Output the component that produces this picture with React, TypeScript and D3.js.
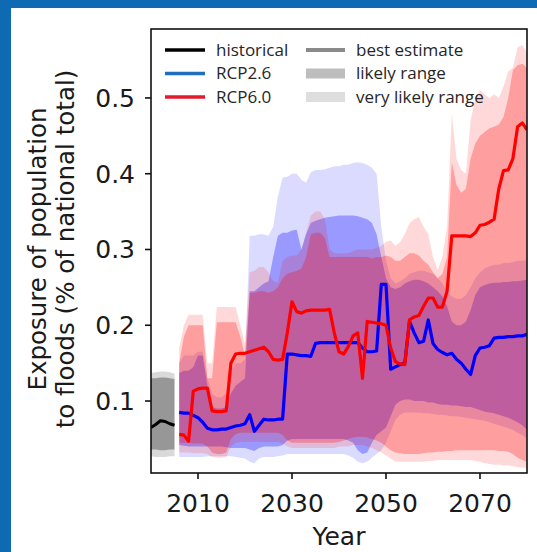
import * as d3 from 'd3'

// ---- data ----
const histYears = [2000, 2001, 2002, 2003, 2004, 2005]
const histMedian = [0.065, 0.069, 0.074, 0.073, 0.070, 0.068]
const histLikelyHigh = [0.130, 0.130, 0.131, 0.131, 0.130, 0.129]
const histLikelyLow = [0.036, 0.036, 0.035, 0.035, 0.036, 0.036]
const histVeryLikelyHigh = [0.137, 0.138, 0.139, 0.139, 0.138, 0.136]
const histVeryLikelyLow = [0.027, 0.026, 0.026, 0.026, 0.027, 0.027]

const futureYears = d3.range(2006, 2081)

const rcp26Median = [
  0.085, 0.084, 0.084, 0.081, 0.078, 0.072, 0.064, 0.062, 0.062, 0.063,
  0.063, 0.065, 0.067, 0.068, 0.070, 0.082, 0.060, 0.068, 0.076, 0.075,
  0.075, 0.076, 0.076, 0.162, 0.162, 0.161, 0.160, 0.160, 0.159, 0.176,
  0.177, 0.177, 0.177, 0.177, 0.177, 0.177, 0.177, 0.177, 0.177, 0.170,
  0.165, 0.165, 0.166, 0.254, 0.254, 0.142, 0.145, 0.148, 0.150, 0.205,
  0.190, 0.177, 0.179, 0.207, 0.176, 0.168, 0.164, 0.161, 0.163, 0.155,
  0.150, 0.142, 0.135, 0.160, 0.170, 0.171, 0.173, 0.183, 0.184, 0.184,
  0.185, 0.185, 0.186, 0.186, 0.188,
]
const rcp26LikelyHigh = [
  0.137, 0.140, 0.140, 0.145, 0.160, 0.160, 0.120, 0.092, 0.090, 0.090,
  0.092, 0.110, 0.120, 0.125, 0.130, 0.245, 0.245, 0.250, 0.255, 0.258,
  0.290, 0.318, 0.322, 0.322, 0.325, 0.326, 0.300, 0.320, 0.335, 0.338,
  0.340, 0.342, 0.343, 0.344, 0.345, 0.345, 0.345, 0.345, 0.344, 0.342,
  0.340, 0.335, 0.320, 0.290, 0.262, 0.250, 0.248, 0.250, 0.255, 0.258,
  0.260, 0.260, 0.258, 0.255, 0.250, 0.245, 0.238, 0.225, 0.205, 0.200,
  0.200, 0.205, 0.220, 0.240, 0.250, 0.253, 0.255, 0.256, 0.256, 0.257,
  0.257, 0.258, 0.258, 0.259, 0.260,
]
const rcp26LikelyLow = [
  0.042, 0.041, 0.040, 0.040, 0.040, 0.040, 0.040, 0.040, 0.040, 0.040,
  0.039, 0.038, 0.038, 0.038, 0.038, 0.036, 0.034, 0.038, 0.040, 0.040,
  0.040, 0.040, 0.042, 0.048, 0.050, 0.050, 0.050, 0.050, 0.050, 0.050,
  0.050, 0.050, 0.050, 0.050, 0.050, 0.050, 0.048, 0.045, 0.035, 0.030,
  0.032, 0.045, 0.055, 0.060, 0.065, 0.080, 0.095, 0.100, 0.102, 0.102,
  0.100, 0.100, 0.100, 0.098, 0.098, 0.096, 0.095, 0.095, 0.094, 0.094,
  0.093, 0.092, 0.092, 0.090, 0.088, 0.086, 0.085, 0.084, 0.082, 0.080,
  0.078, 0.075, 0.072, 0.068, 0.062,
]
const rcp26VeryLikelyHigh = [
  0.150, 0.160, 0.160, 0.160, 0.165, 0.165, 0.130, 0.110, 0.105, 0.105,
  0.110, 0.140, 0.150, 0.150, 0.155, 0.318, 0.318, 0.320, 0.320, 0.318,
  0.330, 0.370, 0.395, 0.396, 0.400, 0.400, 0.392, 0.388, 0.402, 0.405,
  0.405, 0.406, 0.408, 0.410, 0.410, 0.412, 0.412, 0.414, 0.415, 0.414,
  0.412, 0.408, 0.400, 0.330, 0.285, 0.262, 0.255, 0.258, 0.262, 0.268,
  0.270, 0.272, 0.272, 0.270, 0.268, 0.262, 0.255, 0.245, 0.238, 0.235,
  0.235, 0.240, 0.250, 0.262, 0.270, 0.275, 0.278, 0.280, 0.280, 0.282,
  0.282, 0.283, 0.285, 0.285, 0.286,
]
const rcp26VeryLikelyLow = [
  0.026, 0.026, 0.026, 0.026, 0.026, 0.026, 0.027, 0.027, 0.027, 0.027,
  0.027, 0.027, 0.026, 0.025, 0.024, 0.020, 0.018, 0.024, 0.026, 0.026,
  0.026, 0.027, 0.028, 0.030, 0.030, 0.030, 0.030, 0.030, 0.030, 0.030,
  0.030, 0.030, 0.030, 0.030, 0.030, 0.030, 0.028, 0.025, 0.020, 0.018,
  0.020, 0.025, 0.030, 0.035, 0.045, 0.060, 0.075, 0.082, 0.085, 0.085,
  0.085, 0.085, 0.084, 0.084, 0.083, 0.082, 0.082, 0.081, 0.080, 0.080,
  0.079, 0.078, 0.077, 0.076, 0.075, 0.074, 0.072, 0.070, 0.068, 0.066,
  0.064, 0.062, 0.058, 0.055, 0.050,
]

const rcp60Median = [
  0.056, 0.055, 0.047, 0.113, 0.116, 0.117, 0.117, 0.087, 0.086, 0.086,
  0.087, 0.150, 0.162, 0.163, 0.163, 0.165, 0.167, 0.169, 0.171, 0.165,
  0.155, 0.154, 0.155, 0.190, 0.231, 0.218, 0.216, 0.219, 0.220, 0.220,
  0.220, 0.220, 0.221, 0.190, 0.165, 0.162, 0.172, 0.186, 0.190, 0.130,
  0.205, 0.204, 0.203, 0.202, 0.200, 0.170, 0.152, 0.149, 0.148, 0.207,
  0.211, 0.213, 0.225, 0.236, 0.236, 0.224, 0.224, 0.245, 0.318, 0.318,
  0.318, 0.318, 0.317, 0.322, 0.332, 0.333, 0.336, 0.340, 0.380, 0.404,
  0.405, 0.420, 0.462, 0.467, 0.458,
]
const rcp60LikelyHigh = [
  0.150, 0.185, 0.200, 0.200, 0.200, 0.200, 0.130, 0.130, 0.204, 0.204,
  0.204, 0.204, 0.204, 0.185, 0.160, 0.243, 0.243, 0.245, 0.245, 0.243,
  0.245, 0.250, 0.262, 0.268, 0.270, 0.272, 0.275, 0.290, 0.320, 0.322,
  0.322, 0.315, 0.290, 0.290, 0.290, 0.290, 0.290, 0.290, 0.290, 0.290,
  0.290, 0.288, 0.290, 0.290, 0.292, 0.290, 0.285, 0.285, 0.290, 0.295,
  0.295, 0.292, 0.285, 0.280, 0.270, 0.262, 0.268, 0.290, 0.415, 0.385,
  0.375, 0.380, 0.420, 0.440, 0.450, 0.455, 0.460, 0.462, 0.465, 0.475,
  0.500, 0.537, 0.543, 0.545, 0.540,
]
const rcp60LikelyLow = [
  0.045, 0.045, 0.045, 0.044, 0.044, 0.044, 0.040, 0.032, 0.030, 0.030,
  0.032, 0.050, 0.056, 0.058, 0.058, 0.058, 0.058, 0.058, 0.058, 0.058,
  0.058, 0.058, 0.055, 0.048, 0.045, 0.045, 0.045, 0.045, 0.045, 0.045,
  0.045, 0.045, 0.045, 0.045, 0.046, 0.048, 0.050, 0.052, 0.053, 0.053,
  0.052, 0.050, 0.048, 0.045, 0.040, 0.035, 0.032, 0.031, 0.030, 0.030,
  0.030, 0.030, 0.031, 0.032, 0.032, 0.033, 0.033, 0.034, 0.034, 0.035,
  0.035, 0.035, 0.035, 0.035, 0.035, 0.035, 0.035, 0.035, 0.034, 0.034,
  0.033, 0.030, 0.025, 0.022, 0.020,
]
const rcp60VeryLikelyHigh = [
  0.170, 0.200, 0.214, 0.214, 0.214, 0.214, 0.150, 0.150, 0.224, 0.224,
  0.224, 0.224, 0.224, 0.200, 0.175, 0.270, 0.272, 0.277, 0.277, 0.270,
  0.258, 0.256, 0.285, 0.290, 0.292, 0.292, 0.300, 0.322, 0.345, 0.350,
  0.350, 0.340, 0.300, 0.295, 0.295, 0.295, 0.295, 0.298, 0.300, 0.300,
  0.300, 0.300, 0.302, 0.305, 0.310, 0.312, 0.305, 0.310, 0.320, 0.335,
  0.340, 0.343, 0.330, 0.320, 0.290, 0.273, 0.290, 0.330, 0.480, 0.420,
  0.405, 0.400, 0.470, 0.500, 0.510, 0.505, 0.500, 0.505, 0.500, 0.515,
  0.535, 0.540, 0.567, 0.570, 0.560,
]
const rcp60VeryLikelyLow = [
  0.032, 0.032, 0.032, 0.031, 0.031, 0.031, 0.030, 0.026, 0.025, 0.025,
  0.026, 0.040, 0.045, 0.046, 0.046, 0.046, 0.046, 0.046, 0.046, 0.046,
  0.046, 0.046, 0.044, 0.040, 0.038, 0.038, 0.038, 0.038, 0.038, 0.038,
  0.038, 0.038, 0.038, 0.038, 0.040, 0.040, 0.040, 0.042, 0.042, 0.042,
  0.040, 0.038, 0.035, 0.032, 0.028, 0.024, 0.020, 0.020, 0.020, 0.020,
  0.020, 0.020, 0.020, 0.021, 0.021, 0.022, 0.022, 0.022, 0.022, 0.022,
  0.022, 0.022, 0.022, 0.021, 0.020, 0.018, 0.017, 0.016, 0.016, 0.015,
  0.015, 0.014, 0.013, 0.012, 0.012,
]

const yTicks = [0.1, 0.2, 0.3, 0.4, 0.5]
const xTicks = [2010, 2030, 2050, 2070]
const legendScenarios = ['historical', 'RCP2.6', 'RCP6.0']
const legendStats = ['best estimate', 'likely range', 'very likely range']

const W = 537
const H = 552
const plot = { left: 151, right: 527, top: 29, bottom: 473 }
const tickFont = 'DejaVu Sans, sans-serif'
const legendFont = 'Open Sans, sans-serif'

export default function App() {
  const x = d3.scaleLinear().domain([2000, 2080]).range([plot.left, plot.right])
  const y = d3.scaleLinear().domain([0.005, 0.591]).range([plot.bottom, plot.top])

  const band = (years: number[], lo: number[], hi: number[]) =>
    d3.area<number>()
      .x(i => x(years[i]))
      .y0(i => y(lo[i]))
      .y1(i => y(hi[i]))(d3.range(years.length)) || ''

  const line = (years: number[], vals: number[]) =>
    d3.line<number>()
      .x(i => x(years[i]))
      .y(i => y(vals[i]))(d3.range(years.length)) || ''

  const legendCol1 = ['#000000', '#1f6fc0', '#e31a2c']
  const legendCol2 = [
    { c: '#8a8a8a', w: 4 },
    { c: '#bdbdbd', w: 10 },
    { c: '#dedede', w: 10 },
  ]
  const rowY = [50, 73.5, 97]

  return (
    <svg width={W} height={H} style={{ position: 'absolute', left: 0, top: 0, background: '#fff' }}>
      <defs>
        <clipPath id="plotClip">
          <rect x={plot.left} y={plot.top} width={plot.right - plot.left} height={plot.bottom - plot.top} />
        </clipPath>
      </defs>
      {/* frame */}
      <rect x={0} y={0} width={W} height={8} fill="#0f6ab4" />
      <rect x={0} y={0} width={11} height={H} fill="#0f6ab4" />

      <g clipPath="url(#plotClip)">
        {/* historical */}
        <path d={band(histYears, histVeryLikelyLow, histVeryLikelyHigh)} fill="#000" fillOpacity={0.15} />
        <path d={band(histYears, histLikelyLow, histLikelyHigh)} fill="#000" fillOpacity={0.3} />
        {/* RCP2.6 */}
        <path d={band(futureYears, rcp26VeryLikelyLow, rcp26VeryLikelyHigh)} fill="#0000ff" fillOpacity={0.14} />
        <path d={band(futureYears, rcp26LikelyLow, rcp26LikelyHigh)} fill="#0000ff" fillOpacity={0.3} />
        {/* RCP6.0 */}
        <path d={band(futureYears, rcp60VeryLikelyLow, rcp60VeryLikelyHigh)} fill="#ff0000" fillOpacity={0.15} />
        <path d={band(futureYears, rcp60LikelyLow, rcp60LikelyHigh)} fill="#ff0000" fillOpacity={0.27} />

        <path d={line(histYears, histMedian)} fill="none" stroke="#000" strokeWidth={3} strokeLinejoin="round" />
        <path d={line(futureYears, rcp26Median)} fill="none" stroke="#0000ff" strokeWidth={3.2} strokeLinejoin="round" />
        <path d={line(futureYears, rcp60Median)} fill="none" stroke="#ff0000" strokeWidth={3.2} strokeLinejoin="round" />
      </g>

      {/* axes frame */}
      <rect x={plot.left} y={plot.top} width={plot.right - plot.left} height={plot.bottom - plot.top}
        fill="none" stroke="#111" strokeWidth={1.6} />

      {yTicks.map(t => (
        <g key={t}>
          <line x1={plot.left - 6} x2={plot.left} y1={y(t)} y2={y(t)} stroke="#111" strokeWidth={1.6} />
          <text x={plot.left - 16} y={y(t)} dy="0.36em" textAnchor="end" fontFamily={tickFont} fontSize={25} fill="#1a1a1a">
            {t.toFixed(1)}
          </text>
        </g>
      ))}
      {xTicks.map(t => (
        <g key={t}>
          <line x1={x(t)} x2={x(t)} y1={plot.bottom} y2={plot.bottom + 6} stroke="#111" strokeWidth={1.6} />
          <text x={x(t)} y={plot.bottom + 39} textAnchor="middle" fontFamily={tickFont} fontSize={25} fill="#1a1a1a">
            {t}
          </text>
        </g>
      ))}
      <text x={(plot.left + plot.right) / 2} y={545} textAnchor="middle" fontFamily={tickFont} fontSize={25} fill="#1a1a1a">
        Year
      </text>
      <text transform={`translate(46,249) rotate(-90)`} textAnchor="middle" fontFamily={tickFont} fontSize={24.5} fill="#1a1a1a">
        Exposure of population
      </text>
      <text transform={`translate(74,249) rotate(-90)`} textAnchor="middle" fontFamily={tickFont} fontSize={24.5} fill="#1a1a1a">
        to floods (% of national total)
      </text>

      {/* legend */}
      {legendScenarios.map((s, i) => (
        <g key={s}>
          <line x1={165} x2={205} y1={rowY[i]} y2={rowY[i]} stroke={legendCol1[i]} strokeWidth={3.5} />
          <text x={216} y={rowY[i]} dy="0.35em" fontFamily={legendFont} fontSize={17} fill="#262626">{s}</text>
        </g>
      ))}
      {legendStats.map((s, i) => (
        <g key={s}>
          <line x1={306} x2={345} y1={rowY[i]} y2={rowY[i]} stroke={legendCol2[i].c} strokeWidth={legendCol2[i].w} />
          <text x={356} y={rowY[i]} dy="0.35em" fontFamily={legendFont} fontSize={17} fill="#262626">{s}</text>
        </g>
      ))}
    </svg>
  )
}
